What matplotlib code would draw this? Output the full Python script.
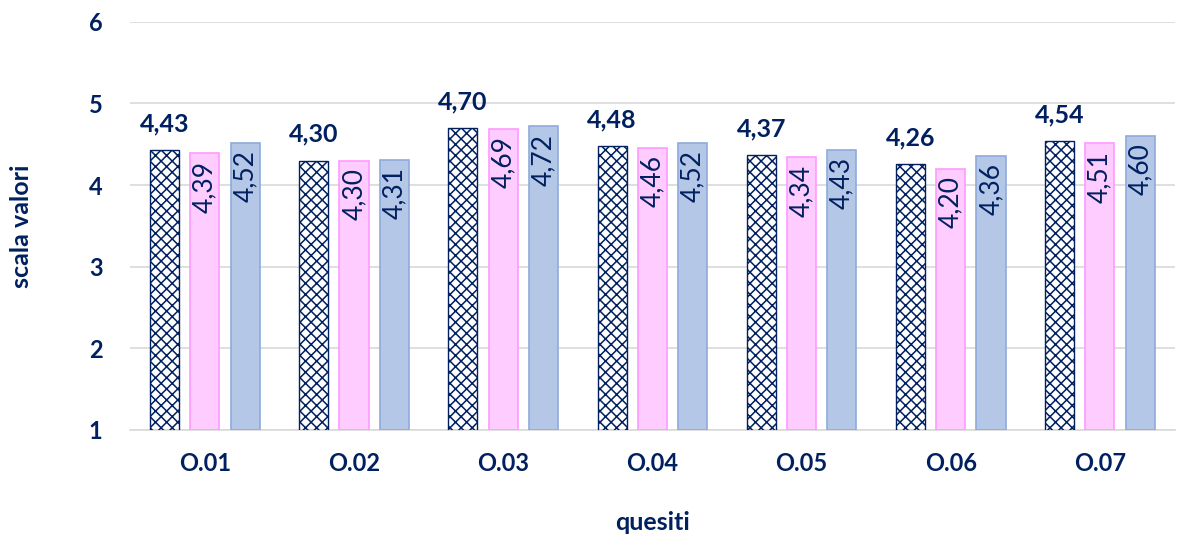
import numpy as np
import matplotlib.pyplot as plt

plt.rcParams['font.family'] = ['Lato', 'DejaVu Sans']
plt.rcParams['hatch.linewidth'] = 1.1

# data
categories = ['O.01', 'O.02', 'O.03', 'O.04', 'O.05', 'O.06', 'O.07']
serie_a = [4.43, 4.30, 4.70, 4.48, 4.37, 4.26, 4.54]
serie_b = [4.39, 4.30, 4.69, 4.46, 4.34, 4.20, 4.51]
serie_c = [4.52, 4.31, 4.72, 4.52, 4.43, 4.36, 4.60]

navy = '#002060'

def fmt(v):
    return f'{v:.2f}'.replace('.', ',')

fig = plt.figure(figsize=(11.84, 5.34), dpi=100)
ax = fig.add_axes([0.11, 0.195, 0.882, 0.764])

x = np.arange(len(categories))
w = 0.195
step = 0.27
base = 1

ax.bar(x - step, np.array(serie_a) - base, w, bottom=base, color='white',
       edgecolor=navy, hatch='xxx', linewidth=1.0, zorder=3)
ax.bar(x, np.array(serie_b) - base, w, bottom=base, color='#FFCCFF',
       edgecolor='#FF99FF', linewidth=1.2, zorder=3)
ax.bar(x + step, np.array(serie_c) - base, w, bottom=base, color='#B4C7E7',
       edgecolor='#8FAADC', linewidth=1.2, zorder=3)

# labels
for xi, v in zip(x - step, serie_a):
    ax.text(xi, v + 0.23, fmt(v), ha='center', va='baseline', fontsize=18,
            fontweight='bold', color=navy)
for xs, vals in ((x, serie_b), (x + step, serie_c)):
    for xi, v in zip(xs, vals):
        ax.text(xi, v - 0.09, fmt(v), ha='center', va='top', rotation=90,
                fontsize=19, color=navy, zorder=4)

ax.set_ylim(1, 6)
ax.set_xlim(-0.5, len(categories) - 0.5)
ax.set_yticks([1, 2, 3, 4, 5, 6])
ax.set_xticks(x)
ax.set_xticklabels(categories)
ax.yaxis.grid(True, color='#D9D9D9', linewidth=1.2, zorder=0)
ax.set_axisbelow(True)
for s in ['top', 'right', 'left']:
    ax.spines[s].set_visible(False)
ax.spines['bottom'].set_color('#D9D9D9')
ax.spines['bottom'].set_linewidth(1.2)
ax.tick_params(axis='both', length=0, labelsize=17, labelcolor=navy)
ax.tick_params(axis='y', pad=20)
ax.tick_params(axis='x', pad=16)
for lab in ax.get_xticklabels() + ax.get_yticklabels():
    lab.set_fontweight('bold')

ax.set_ylabel('scala valori', fontsize=18, fontweight='bold', color=navy, labelpad=40)
ax.set_xlabel('quesiti', fontsize=18, fontweight='bold', color=navy, labelpad=26)

fig.savefig('out.png', dpi=100)
